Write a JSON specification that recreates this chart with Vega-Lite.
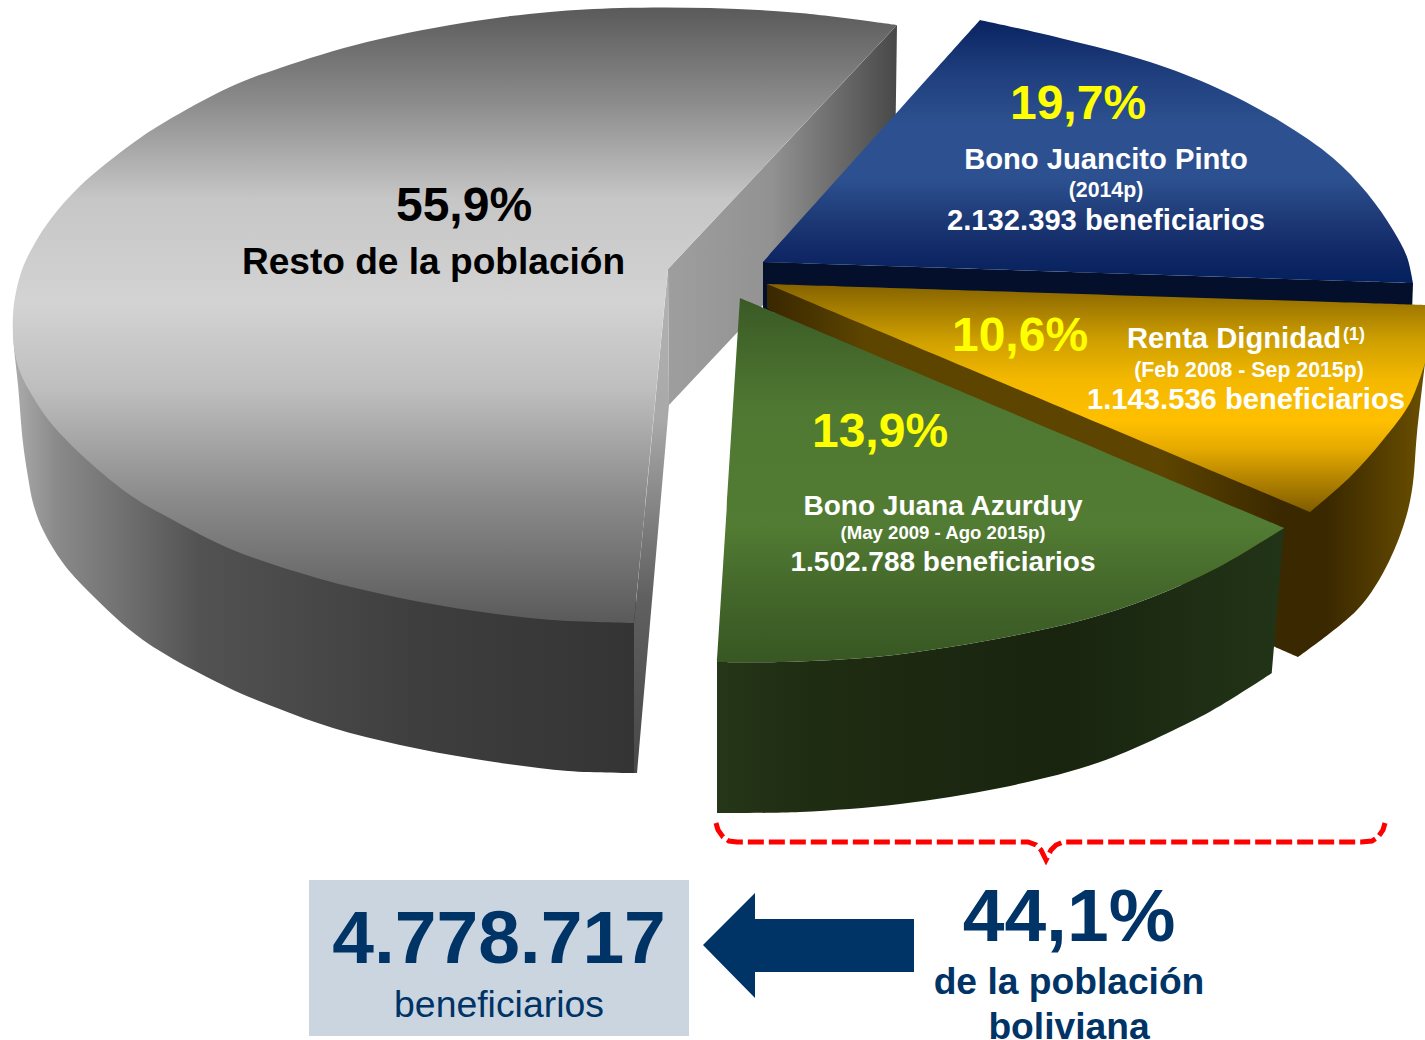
{
"$schema":"https://vega.github.io/schema/vega-lite/v6.json",
"autosize":{"type":"none"},
"width":1425,"height":1040,"padding":0,"background":"white",
"view":{"stroke":null},
"encoding":{
 "x":{"field":"x","type":"quantitative","scale":{"domain":[0,1425]},"axis":null},
 "y":{"field":"y","type":"quantitative","scale":{"domain":[0,1040],"reverse":true},"axis":null}
},
"layer":[
{"data":{"values":[{"i":1,"x":13,"y":320},{"i":2,"x":14,"y":347},{"i":3,"x":18,"y":385},{"i":4,"x":23,"y":443},{"i":5,"x":28,"y":477},{"i":6,"x":33,"y":503},{"i":7,"x":43,"y":530},{"i":8,"x":63,"y":563},{"i":9,"x":90,"y":593},{"i":10,"x":143,"y":640},{"i":11,"x":227,"y":687},{"i":12,"x":277,"y":708},{"i":13,"x":333,"y":728},{"i":14,"x":400,"y":745},{"i":15,"x":475,"y":759},{"i":16,"x":568,"y":771},{"i":17,"x":637,"y":773},{"i":18,"x":637,"y":773},{"i":19,"x":636,"y":600},{"i":20,"x":636,"y":600},{"i":21,"x":300,"y":400},{"i":22,"x":300,"y":400},{"i":23,"x":13,"y":320}]},
 "mark":{"type":"line","interpolate":"catmull-rom","stroke":"transparent","strokeWidth":0,"fill":{"gradient":"linear","x1":0,"y1":0,"x2":1,"y2":0,"stops":[{"offset":0,"color":"#acacac"},{"offset":0.07,"color":"#8a8a8a"},{"offset":0.3,"color":"#525252"},{"offset":0.65,"color":"#3e3e3e"},{"offset":1,"color":"#343434"}]}},
 "encoding":{"order":{"field":"i","type":"ordinal"}}},
{"data":{"values":[{"i":1,"x":668,"y":269},{"i":2,"x":897,"y":25},{"i":3,"x":895,"y":165},{"i":4,"x":669,"y":405},{"i":5,"x":668,"y":269}]},
 "mark":{"type":"line","stroke":"transparent","strokeWidth":0,"fill":{"gradient":"linear","x1":0,"y1":0,"x2":1,"y2":0,"stops":[{"offset":0,"color":"#9e9e9e"},{"offset":0.45,"color":"#929292"},{"offset":0.75,"color":"#6a6a6a"},{"offset":1,"color":"#484848"}]}},
 "encoding":{"order":{"field":"i","type":"ordinal"}}},
{"data":{"values":[{"i":1,"x":668,"y":269},{"i":2,"x":669,"y":405},{"i":3,"x":637,"y":773},{"i":4,"x":634,"y":773},{"i":5,"x":634,"y":623},{"i":6,"x":668,"y":269}]},
 "mark":{"type":"line","stroke":"transparent","strokeWidth":0,"fill":{"gradient":"linear","x1":0,"y1":0,"x2":0,"y2":1,"stops":[{"offset":0,"color":"#b4b4b4"},{"offset":0.3,"color":"#a8a8a8"},{"offset":0.65,"color":"#606060"},{"offset":1,"color":"#484848"}]}},
 "encoding":{"order":{"field":"i","type":"ordinal"}}},
{"data":{"values":[{"i":1,"x":668,"y":269},{"i":2,"x":668,"y":269},{"i":3,"x":897,"y":25},{"i":4,"x":897,"y":25},{"i":5,"x":800,"y":13},{"i":6,"x":710,"y":8},{"i":7,"x":620,"y":8},{"i":8,"x":550,"y":12},{"i":9,"x":475,"y":21},{"i":10,"x":367,"y":42},{"i":11,"x":280,"y":68},{"i":12,"x":230,"y":87},{"i":13,"x":165,"y":122},{"i":14,"x":133,"y":143},{"i":15,"x":80,"y":186},{"i":16,"x":50,"y":220},{"i":17,"x":35,"y":243},{"i":18,"x":23,"y":267},{"i":19,"x":16,"y":292},{"i":20,"x":13,"y":315},{"i":21,"x":14,"y":347},{"i":22,"x":20,"y":372},{"i":23,"x":33,"y":397},{"i":24,"x":50,"y":422},{"i":25,"x":87,"y":460},{"i":26,"x":133,"y":497},{"i":27,"x":173,"y":520},{"i":28,"x":233,"y":550},{"i":29,"x":317,"y":578},{"i":30,"x":400,"y":598},{"i":31,"x":475,"y":611},{"i":32,"x":552,"y":620},{"i":33,"x":634,"y":623},{"i":34,"x":634,"y":623},{"i":35,"x":668,"y":269},{"i":36,"x":668,"y":269}]},
 "mark":{"type":"line","interpolate":"catmull-rom","stroke":"transparent","strokeWidth":0,"fill":{"gradient":"linear","x1":0,"y1":0,"x2":0,"y2":1,"stops":[{"offset":0,"color":"#5a5a5a"},{"offset":0.15,"color":"#8a8a8a"},{"offset":0.31,"color":"#c6c6c6"},{"offset":0.48,"color":"#d3d3d3"},{"offset":0.62,"color":"#bebebe"},{"offset":0.8,"color":"#8a8a8a"},{"offset":1,"color":"#5a5a5a"}]}},
 "encoding":{"order":{"field":"i","type":"ordinal"}}},
{"data":{"values":[{"i":1,"x":763,"y":262},{"i":2,"x":1413,"y":283},{"i":3,"x":1412,"y":312},{"i":4,"x":767,"y":312},{"i":5,"x":763,"y":309},{"i":6,"x":763,"y":262}]},
 "mark":{"type":"line","stroke":"transparent","strokeWidth":0,"fill":"#030f2b"},
 "encoding":{"order":{"field":"i","type":"ordinal"}}},
{"data":{"values":[{"i":1,"x":763,"y":262},{"i":2,"x":763,"y":262},{"i":3,"x":980,"y":20},{"i":4,"x":980,"y":20},{"i":5,"x":1060,"y":38},{"i":6,"x":1150,"y":62},{"i":7,"x":1217,"y":88},{"i":8,"x":1283,"y":123},{"i":9,"x":1333,"y":158},{"i":10,"x":1367,"y":193},{"i":11,"x":1393,"y":230},{"i":12,"x":1407,"y":257},{"i":13,"x":1413,"y":283},{"i":14,"x":1413,"y":283},{"i":15,"x":763,"y":262},{"i":16,"x":763,"y":262}]},
 "mark":{"type":"line","interpolate":"catmull-rom","stroke":"transparent","strokeWidth":0,"fill":{"gradient":"linear","x1":0,"y1":0,"x2":0,"y2":1,"stops":[{"offset":0,"color":"#0a2360"},{"offset":0.2,"color":"#1f3e7d"},{"offset":0.4,"color":"#2d5190"},{"offset":0.6,"color":"#2d5190"},{"offset":0.78,"color":"#1b3672"},{"offset":0.9,"color":"#0f2765"},{"offset":1,"color":"#04205e"}]}},
 "encoding":{"order":{"field":"i","type":"ordinal"}}},
{"data":{"values":[{"i":1,"x":767,"y":284},{"i":2,"x":767,"y":284},{"i":3,"x":1000,"y":330},{"i":4,"x":1000,"y":330},{"i":5,"x":1425,"y":363},{"i":6,"x":1425,"y":363},{"i":7,"x":1417,"y":433},{"i":8,"x":1412,"y":490},{"i":9,"x":1403,"y":527},{"i":10,"x":1383,"y":573},{"i":11,"x":1357,"y":610},{"i":12,"x":1298,"y":657},{"i":13,"x":1298,"y":657},{"i":14,"x":1275,"y":647},{"i":15,"x":1275,"y":647},{"i":16,"x":767,"y":308},{"i":17,"x":767,"y":308},{"i":18,"x":767,"y":284},{"i":19,"x":767,"y":284}]},
 "mark":{"type":"line","interpolate":"catmull-rom","stroke":"transparent","strokeWidth":0,"fill":{"gradient":"linear","x1":0,"y1":0,"x2":1,"y2":0,"stops":[{"offset":0,"color":"#392700"},{"offset":0.15,"color":"#5d4500"},{"offset":0.6,"color":"#5d4400"},{"offset":0.78,"color":"#3a2800"},{"offset":0.85,"color":"#3a2800"},{"offset":0.95,"color":"#5a4200"},{"offset":1,"color":"#6a4f00"}]}},
 "encoding":{"order":{"field":"i","type":"ordinal"}}},
{"data":{"values":[{"i":1,"x":767,"y":284},{"i":2,"x":767,"y":284},{"i":3,"x":1425,"y":305},{"i":4,"x":1425,"y":305},{"i":5,"x":1425,"y":363},{"i":6,"x":1425,"y":363},{"i":7,"x":1410,"y":403},{"i":8,"x":1383,"y":440},{"i":9,"x":1350,"y":477},{"i":10,"x":1310,"y":512},{"i":11,"x":1310,"y":512},{"i":12,"x":767,"y":284},{"i":13,"x":767,"y":284}]},
 "mark":{"type":"line","interpolate":"catmull-rom","stroke":"transparent","strokeWidth":0,"fill":{"gradient":"linear","x1":0,"y1":0,"x2":0,"y2":1,"stops":[{"offset":0,"color":"#856200"},{"offset":0.25,"color":"#cfa000"},{"offset":0.42,"color":"#f4b800"},{"offset":0.6,"color":"#ffc000"},{"offset":0.72,"color":"#e6aa00"},{"offset":1,"color":"#7f5c00"}]}},
 "encoding":{"order":{"field":"i","type":"ordinal"}}},
{"data":{"values":[{"i":1,"x":717,"y":662},{"i":2,"x":717,"y":662},{"i":3,"x":783,"y":662},{"i":4,"x":875,"y":657},{"i":5,"x":950,"y":647},{"i":6,"x":1017,"y":635},{"i":7,"x":1083,"y":620},{"i":8,"x":1150,"y":598},{"i":9,"x":1217,"y":568},{"i":10,"x":1284,"y":528},{"i":11,"x":1284,"y":528},{"i":12,"x":1272,"y":673},{"i":13,"x":1272,"y":673},{"i":14,"x":1233,"y":698},{"i":15,"x":1200,"y":717},{"i":16,"x":1100,"y":762},{"i":17,"x":1000,"y":788},{"i":18,"x":900,"y":804},{"i":19,"x":800,"y":812},{"i":20,"x":717,"y":813},{"i":21,"x":717,"y":813},{"i":22,"x":717,"y":662},{"i":23,"x":717,"y":662}]},
 "mark":{"type":"line","interpolate":"catmull-rom","stroke":"transparent","strokeWidth":0,"fill":{"gradient":"linear","x1":0,"y1":0,"x2":1,"y2":0,"stops":[{"offset":0,"color":"#263618"},{"offset":0.15,"color":"#1f2d12"},{"offset":0.6,"color":"#19240f"},{"offset":1,"color":"#223417"}]}},
 "encoding":{"order":{"field":"i","type":"ordinal"}}},
{"data":{"values":[{"i":1,"x":740,"y":298},{"i":2,"x":740,"y":298},{"i":3,"x":1284,"y":528},{"i":4,"x":1284,"y":528},{"i":5,"x":1217,"y":568},{"i":6,"x":1150,"y":598},{"i":7,"x":1083,"y":620},{"i":8,"x":1017,"y":635},{"i":9,"x":950,"y":647},{"i":10,"x":875,"y":657},{"i":11,"x":783,"y":662},{"i":12,"x":717,"y":662},{"i":13,"x":717,"y":662},{"i":14,"x":740,"y":298},{"i":15,"x":740,"y":298}]},
 "mark":{"type":"line","interpolate":"catmull-rom","stroke":"transparent","strokeWidth":0,"fill":{"gradient":"linear","x1":0,"y1":0,"x2":0,"y2":1,"stops":[{"offset":0,"color":"#3a5a25"},{"offset":0.3,"color":"#4f7832"},{"offset":0.62,"color":"#527c33"},{"offset":0.8,"color":"#44682b"},{"offset":1,"color":"#385723"}]}},
 "encoding":{"order":{"field":"i","type":"ordinal"}}},
{"data":{"values":[{"i":1,"x":716,"y":823},{"i":2,"x":718,"y":830},{"i":3,"x":723,"y":837},{"i":4,"x":729,"y":841},{"i":5,"x":737,"y":842},{"i":6,"x":1028,"y":842},{"i":7,"x":1036,"y":845},{"i":8,"x":1041,"y":850},{"i":9,"x":1046,"y":860},{"i":10,"x":1051,"y":850},{"i":11,"x":1056,"y":845},{"i":12,"x":1063,"y":842},{"i":13,"x":1361,"y":842},{"i":14,"x":1372,"y":841},{"i":15,"x":1378,"y":837},{"i":16,"x":1383,"y":830},{"i":17,"x":1385,"y":823}]},
 "mark":{"type":"line","stroke":"#ff0000","strokeWidth":5,"strokeDash":[16,5]},
 "encoding":{"order":{"field":"i","type":"ordinal"}}},
{"data":{"values":[{"x":309,"y":880,"x2":689,"y2":1036}]},
 "mark":{"type":"rect","fill":"#cbd5e0"},
 "encoding":{"x2":{"field":"x2"},"y2":{"field":"y2"}}},
{"data":{"values":[{"i":1,"x":703,"y":945},{"i":2,"x":755,"y":893},{"i":3,"x":755,"y":919},{"i":4,"x":914,"y":919},{"i":5,"x":914,"y":972},{"i":6,"x":755,"y":972},{"i":7,"x":755,"y":998},{"i":8,"x":703,"y":945}]},
 "mark":{"type":"line","stroke":"transparent","strokeWidth":0,"fill":"#003366"},
 "encoding":{"order":{"field":"i","type":"ordinal"}}},
{"data":{"values":[{"x":464,"y":221,"t":"55,9%"}]},
 "mark":{"type":"text","font":"Liberation Sans","fontWeight":"bold","fontSize":48,"fill":"#000000","align":"center","baseline":"alphabetic"},
 "encoding":{"text":{"field":"t"}}},
{"data":{"values":[{"x":433.5,"y":274,"t":"Resto de la población"}]},
 "mark":{"type":"text","font":"Liberation Sans","fontWeight":"bold","fontSize":37.1,"fill":"#000000","align":"center","baseline":"alphabetic"},
 "encoding":{"text":{"field":"t"}}},
{"data":{"values":[{"x":1078,"y":119,"t":"19,7%"},{"x":1020,"y":351,"t":"10,6%"},{"x":880,"y":447,"t":"13,9%"}]},
 "mark":{"type":"text","font":"Liberation Sans","fontWeight":"bold","fontSize":48,"fill":"#ffff00","align":"center","baseline":"alphabetic"},
 "encoding":{"text":{"field":"t"}}},
{"data":{"values":[{"x":1106,"y":169,"t":"Bono Juancito Pinto"},{"x":1106,"y":230,"t":"2.132.393 beneficiarios"},{"x":1246,"y":409,"t":"1.143.536 beneficiarios"}]},
 "mark":{"type":"text","font":"Liberation Sans","fontWeight":"bold","fontSize":29.2,"fill":"#ffffff","align":"center","baseline":"alphabetic"},
 "encoding":{"text":{"field":"t"}}},
{"data":{"values":[{"x":1127,"y":348,"t":"Renta Dignidad"}]},
 "mark":{"type":"text","font":"Liberation Sans","fontWeight":"bold","fontSize":29.2,"fill":"#ffffff","align":"left","baseline":"alphabetic"},
 "encoding":{"text":{"field":"t"}}},
{"data":{"values":[{"x":1343,"y":340,"t":"(1)"}]},
 "mark":{"type":"text","font":"Liberation Sans","fontWeight":"bold","fontSize":18,"fill":"#ffffff","align":"left","baseline":"alphabetic"},
 "encoding":{"text":{"field":"t"}}},
{"data":{"values":[{"x":1106,"y":197,"t":"(2014p)"},{"x":1249,"y":377,"t":"(Feb 2008 - Sep 2015p)"}]},
 "mark":{"type":"text","font":"Liberation Sans","fontWeight":"bold","fontSize":21.3,"fill":"#ffffff","align":"center","baseline":"alphabetic"},
 "encoding":{"text":{"field":"t"}}},
{"data":{"values":[{"x":943,"y":515,"t":"Bono Juana Azurduy"},{"x":943,"y":571,"t":"1.502.788 beneficiarios"}]},
 "mark":{"type":"text","font":"Liberation Sans","fontWeight":"bold","fontSize":28,"fill":"#ffffff","align":"center","baseline":"alphabetic"},
 "encoding":{"text":{"field":"t"}}},
{"data":{"values":[{"x":943,"y":539,"t":"(May 2009 - Ago 2015p)"}]},
 "mark":{"type":"text","font":"Liberation Sans","fontWeight":"bold","fontSize":18.6,"fill":"#ffffff","align":"center","baseline":"alphabetic"},
 "encoding":{"text":{"field":"t"}}},
{"data":{"values":[{"x":499,"y":963,"t":"4.778.717"},{"x":1069,"y":941,"t":"44,1%"}]},
 "mark":{"type":"text","font":"Liberation Sans","fontWeight":"bold","fontSize":75,"fill":"#003366","align":"center","baseline":"alphabetic"},
 "encoding":{"text":{"field":"t"}}},
{"data":{"values":[{"x":499,"y":1017,"t":"beneficiarios"}]},
 "mark":{"type":"text","font":"Liberation Sans","fontSize":37.4,"fill":"#003366","align":"center","baseline":"alphabetic"},
 "encoding":{"text":{"field":"t"}}},
{"data":{"values":[{"x":1069,"y":994,"t":"de la población"},{"x":1069,"y":1039,"t":"boliviana"}]},
 "mark":{"type":"text","font":"Liberation Sans","fontWeight":"bold","fontSize":37.2,"fill":"#003366","align":"center","baseline":"alphabetic"},
 "encoding":{"text":{"field":"t"}}}
]
}
